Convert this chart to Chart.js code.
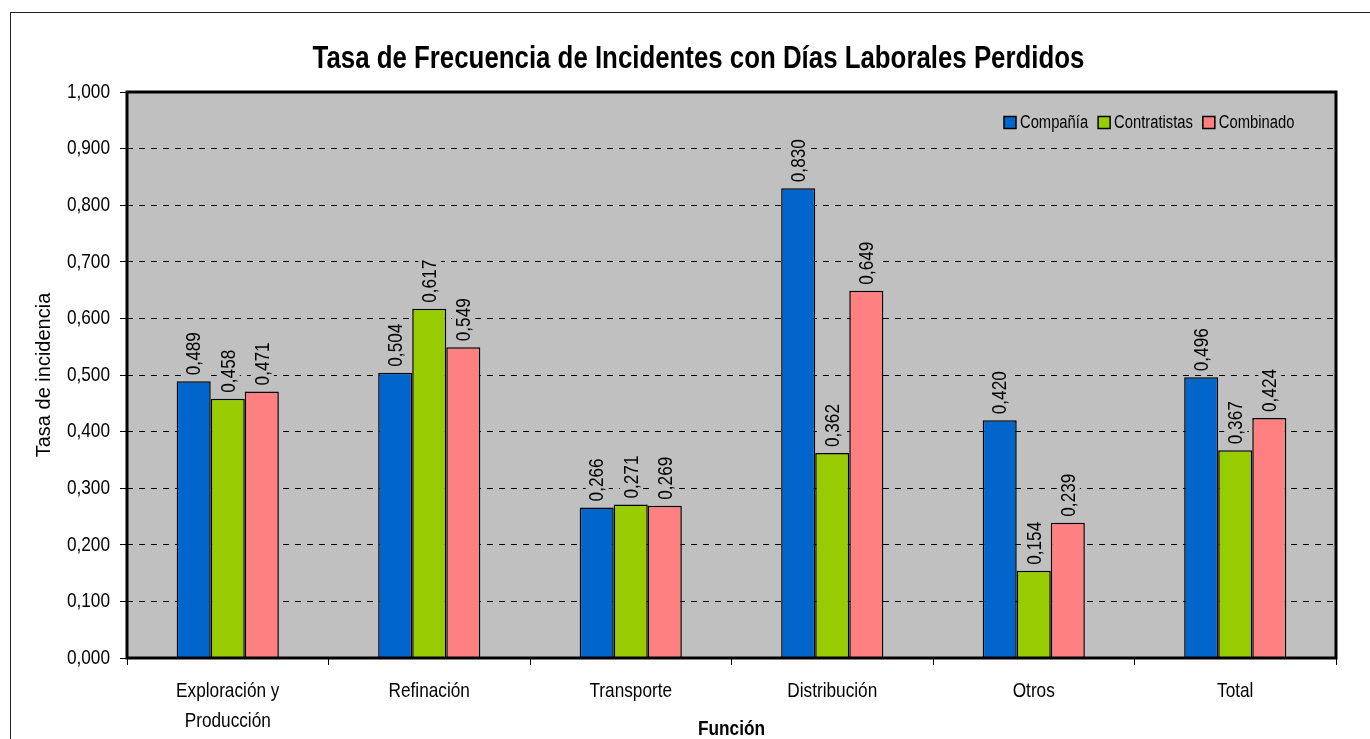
<!DOCTYPE html>
<html>
<head>
<meta charset="utf-8">
<script src="https://cdn.jsdelivr.net/npm/chart.js@4.4.1/dist/chart.umd.min.js"></script>
<style>
  html, body { margin: 0; padding: 0; background: #fff; overflow: hidden; }
  #wrap { position: relative; width: 1370px; height: 739px; }
</style>
</head>
<body>
<div id="wrap"><canvas id="c" width="1370" height="739"></canvas></div>
<script>
const categories = [["Exploración y", "Producción"], "Refinación", "Transporte", "Distribución", "Otros", "Total"];
const seriesNames = ["Compañía", "Contratistas", "Combinado"];
const companyValues = [0.489, 0.504, 0.266, 0.830, 0.420, 0.496];
const contractorValues = [0.458, 0.617, 0.271, 0.362, 0.154, 0.367];
const combinedValues = [0.471, 0.549, 0.269, 0.649, 0.239, 0.424];
const seriesColors = ["#0066CC", "#99CC00", "#FF8080"];
const chartTitle = "Tasa de Frecuencia de Incidentes con Días Laborales Perdidos";

const FONT = "'Liberation Sans', Arial, sans-serif";
const WIDE_FONT = "'Liberation Sans', Arial, wide-text, sans-serif"; // not condensed
const NARROW = 0.82; // Arial Narrow ≈ Arial condensed horizontally
const fmt = v => Number(v).toFixed(3).replace('.', ',');

Chart.defaults.font.family = FONT;
Chart.defaults.color = '#000';

// Make text drawn on this canvas narrow (Arial Narrow look), except the "wide" family
const canvas = document.getElementById('c');
const ctx2d = canvas.getContext('2d');
const origFill = ctx2d.fillText.bind(ctx2d);
const origMeasure = ctx2d.measureText.bind(ctx2d);
const isNarrow = c => c.font.indexOf('wide-text') === -1;
ctx2d.fillText = function (text, x, y, maxWidth) {
  const k = isNarrow(this) ? NARROW : 1;
  this.save();
  this.translate(x, y);
  this.scale(k, 1);
  if (maxWidth === undefined) origFill(text, 0, 0);
  else origFill(text, 0, 0, maxWidth / k);
  this.restore();
};
ctx2d.measureText = function (text) {
  const k = isNarrow(this) ? NARROW : 1;
  const m = origMeasure(text);
  return {
    width: m.width * k,
    actualBoundingBoxLeft: m.actualBoundingBoxLeft * k,
    actualBoundingBoxRight: m.actualBoundingBoxRight * k,
    actualBoundingBoxAscent: m.actualBoundingBoxAscent,
    actualBoundingBoxDescent: m.actualBoundingBoxDescent,
    fontBoundingBoxAscent: m.fontBoundingBoxAscent,
    fontBoundingBoxDescent: m.fontBoundingBoxDescent
  };
};

const framePlugin = {
  id: 'frame',
  beforeDraw(chart) {
    const {ctx, chartArea: a} = chart;
    ctx.save();
    ctx.fillStyle = '#fff';
    ctx.fillRect(0, 0, chart.width, chart.height);
    ctx.strokeStyle = '#222';
    ctx.lineWidth = 1;
    ctx.strokeRect(10.5, 12.5, 3000, 3000);
    ctx.fillStyle = '#C0C0C0';
    ctx.fillRect(a.left, a.top, a.right - a.left, a.bottom - a.top);
    // title
    ctx.fillStyle = '#000';
    ctx.font = 'bold 31.5px ' + FONT;
    ctx.textAlign = 'center';
    ctx.textBaseline = 'middle';
    ctx.fillText(chartTitle, 698.5, 59);
    ctx.restore();
  },
  afterDatasetsDraw(chart) {
    const {ctx, chartArea: a} = chart;
    ctx.save();
    // value labels (with plot-coloured background, as in the original)
    ctx.font = '21px ' + FONT;
    ctx.textAlign = 'left';
    ctx.textBaseline = 'middle';
    chart.data.datasets.forEach((ds, di) => {
      const meta = chart.getDatasetMeta(di);
      meta.data.forEach((bar, i) => {
        const txt = fmt(ds.data[i]);
        const w = ctx.measureText(txt).width;
        ctx.save();
        ctx.translate(bar.x + 1, bar.y - 6);
        ctx.rotate(-Math.PI / 2);
        ctx.fillStyle = '#C0C0C0';
        ctx.fillRect(-2, -12, w + 4, 23);
        ctx.fillStyle = '#000';
        ctx.fillText(txt, 0, 0);
        ctx.restore();
      });
    });
    // plot border
    ctx.strokeStyle = '#000';
    ctx.lineWidth = 3;
    ctx.strokeRect(a.left, a.top, a.right - a.left, a.bottom - a.top);
    // legend
    ctx.font = '18px ' + FONT;
    ctx.textBaseline = 'middle';
    let x = 1004;
    const y = 122.5;
    chart.data.datasets.forEach((ds) => {
      ctx.fillStyle = ds.backgroundColor;
      ctx.fillRect(x, y - 6, 12, 12);
      ctx.lineWidth = 1.5;
      ctx.strokeStyle = '#000';
      ctx.strokeRect(x, y - 6, 12, 12);
      ctx.fillStyle = '#000';
      ctx.fillText(ds.label, x + 16, y + 1);
      x += 16 + ctx.measureText(ds.label).width + 10;
    });
    ctx.restore();
  }
};

new Chart(canvas, {
  type: 'bar',
  data: {
    labels: categories,
    datasets: [
      { label: seriesNames[0], data: companyValues, backgroundColor: seriesColors[0] },
      { label: seriesNames[1], data: contractorValues, backgroundColor: seriesColors[1] },
      { label: seriesNames[2], data: combinedValues, backgroundColor: seriesColors[2] }
    ].map(d => Object.assign(d, { borderColor: '#000', borderWidth: 1.5, categoryPercentage: 0.507, barPercentage: 1.0 }))
  },
  options: {
    responsive: false,
    animation: false,
    devicePixelRatio: 1,
    layout: { padding: { left: 0, right: 34, top: 92, bottom: 0 } },
    plugins: {
      legend: { display: false },
      tooltip: { enabled: false },
      title: { display: false }
    },
    scales: {
      x: {
        offset: true,
        grid: { display: true, drawOnChartArea: false, drawTicks: true, tickLength: 7, offset: true, color: '#000', lineWidth: 1 },
        border: { display: false },
        ticks: { color: '#000', font: { size: 21, family: FONT, lineHeight: 1.43 }, padding: 11.5, maxRotation: 0, autoSkip: false },
        title: { display: true, text: 'Función', color: '#000', font: { size: 21, weight: 'bold', family: FONT, lineHeight: 1.2 }, padding: { top: 0, bottom: -3 } },
        afterFit(scale) { scale.height = 81; }
      },
      y: {
        min: 0, max: 1,
        grid: { color: '#000', lineWidth: 1, drawTicks: true, tickLength: 7, tickColor: '#000', tickBorderDash: [0, 0] },
        border: { display: false, dash: [6, 6] },
        ticks: { stepSize: 0.1, color: '#000', font: { size: 21, family: FONT }, padding: 10, callback: v => fmt(v) },
        title: { display: true, text: 'Tasa de incidencia', color: '#000', font: { size: 20, weight: 'normal', family: WIDE_FONT, lineHeight: 1.2 }, padding: { top: 32.5, bottom: 0 } },
        afterFit(scale) { scale.width = 127; }
      }
    }
  },
  plugins: [framePlugin]
});
</script>
</body>
</html>
